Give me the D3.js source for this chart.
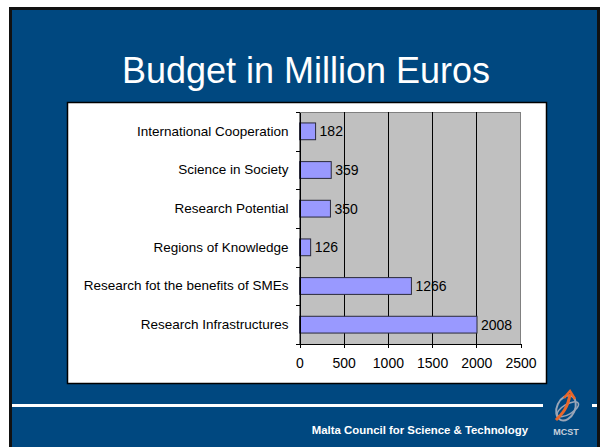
<!DOCTYPE html>
<html lang='en'>
  <head>
    <meta charset='utf-8'>
    <title>Budget in Million Euros</title>
    <script type='text/javascript' src='https://cdn.jsdelivr.net/npm/d3@7'></script>
    <style type='text/css'>
    body{
      margin: 0;
      background: white;
    }
    svg{
      display: block;
    }
    .axis path,
    .axis line{
      fill: none;
      stroke: black;
      shape-rendering: crispEdges;
    }
    .axis text{
      font-family: 'Liberation Sans', Arial, sans-serif;
      fill: black;
    }
    </style>
  </head>
  <body>
    <script type='text/javascript'>

    // chart data
    var categories = ['International Cooperation', 'Science in Society', 'Research Potential',
                      'Regions of Knowledge', 'Research fot the benefits of SMEs', 'Research Infrastructures'];
    var values = [182, 359, 350, 126, 1266, 2008];
    var xTicks = [0, 500, 1000, 1500, 2000, 2500];

    var w = 600;
    var h = 447;
    var blue = '#004880';

    var svg = d3.select('body')
                .append('svg')
                .attr('width', w)
                .attr('height', h);

    // slide background with its dark frame
    svg.append('rect')
       .attr('x', 9).attr('y', 7)
       .attr('width', w - 9).attr('height', h - 7)
       .attr('fill', '#111');
    svg.append('rect')
       .attr('x', 12).attr('y', 10)
       .attr('width', 585).attr('height', h - 10)
       .attr('fill', blue);

    svg.append('text')
       .attr('x', 306)
       .attr('y', 83)
       .attr('text-anchor', 'middle')
       .attr('font-family', "'Liberation Sans', Arial, sans-serif")
       .attr('font-size', '36px')
       .attr('fill', 'white')
       .text('Budget in Million Euros');

    // white chart box
    svg.append('rect')
       .attr('x', 67.5).attr('y', 102.5)
       .attr('width', 479).attr('height', 281)
       .attr('fill', 'white')
       .attr('stroke', 'black')
       .attr('stroke-width', 1.5);

    var plotLeft = 299.5, plotRight = 520.5, plotTop = 112, plotBottom = 344;

    var xScale = d3.scaleLinear()
                   .domain([0, 2500])
                   .range([plotLeft, plotRight]);

    var yScale = d3.scaleBand()
                   .domain(categories)
                   .range([plotTop, plotBottom])
                   .paddingInner(0.566)
                   .paddingOuter(0.283);

    // plot area
    svg.append('rect')
       .attr('x', plotLeft).attr('y', plotTop)
       .attr('width', plotRight - plotLeft).attr('height', plotBottom - plotTop)
       .attr('fill', '#c0c0c0')
       .attr('stroke', '#808080')
       .attr('stroke-width', 1)
       .attr('shape-rendering', 'crispEdges');

    svg.selectAll('line.grid')
       .data(xTicks.slice(1, -1))
       .enter()
       .append('line')
       .attr('class', 'grid')
       .attr('x1', function(d){ return Math.round(xScale(d)) + 0.5; })
       .attr('x2', function(d){ return Math.round(xScale(d)) + 0.5; })
       .attr('y1', plotTop)
       .attr('y2', plotBottom)
       .attr('stroke', 'black')
       .attr('stroke-width', 1);

    svg.selectAll('rect.bar')
       .data(values)
       .enter()
       .append('rect')
       .attr('class', 'bar')
       .attr('x', plotLeft)
       .attr('y', function(d, i){ return yScale(categories[i]); })
       .attr('width', function(d){ return xScale(d) - plotLeft; })
       .attr('height', yScale.bandwidth())
       .attr('fill', '#9999ff')
       .attr('stroke', '#2a2a3a')
       .attr('stroke-width', 1);

    svg.selectAll('text.value')
       .data(values)
       .enter()
       .append('text')
       .attr('class', 'value')
       .attr('x', function(d){ return xScale(d) + 4; })
       .attr('y', function(d, i){ return yScale(categories[i]) + yScale.bandwidth() / 2; })
       .attr('dy', '0.36em')
       .attr('font-family', "'Liberation Sans', Arial, sans-serif")
       .attr('font-size', '14px')
       .attr('fill', 'black')
       .text(function(d){ return d; });

    // x axis
    var xAxis = d3.axisBottom(xScale)
                  .tickValues(xTicks)
                  .tickFormat(d3.format('d'))
                  .tickSize(4)
                  .tickSizeOuter(0)
                  .tickPadding(10);

    svg.append('g')
       .attr('class', 'x axis')
       .attr('transform', 'translate(0,' + plotBottom + ')')
       .call(xAxis)
       .selectAll('text')
       .attr('font-size', '14px');

    // y axis: tick marks sit between categories
    var edgeScale = d3.scaleLinear()
                      .domain([0, categories.length])
                      .range([plotTop, plotBottom]);

    svg.append('g')
       .attr('class', 'y axis')
       .attr('transform', 'translate(' + plotLeft + ',0)')
       .call(d3.axisLeft(edgeScale)
               .ticks(categories.length)
               .tickSize(4)
               .tickSizeOuter(0)
               .tickFormat(''));

    svg.append('g')
       .attr('class', 'y labels axis')
       .attr('transform', 'translate(' + plotLeft + ',0)')
       .call(d3.axisLeft(yScale).tickSize(0).tickPadding(11))
       .call(function(g){ g.select('.domain').remove(); })
       .selectAll('text')
       .attr('font-size', '13.5px');

    // footer
    svg.append('rect')
       .attr('x', 12).attr('y', 404)
       .attr('width', 531).attr('height', 3)
       .attr('fill', 'white');
    svg.append('rect')
       .attr('x', 592).attr('y', 404)
       .attr('width', 5).attr('height', 3)
       .attr('fill', 'white');

    svg.append('text')
       .attr('x', 528)
       .attr('y', 434)
       .attr('text-anchor', 'end')
       .attr('font-family', "'Liberation Sans', Arial, sans-serif")
       .attr('font-weight', 'bold')
       .attr('font-size', '11.4px')
       .attr('fill', 'white')
       .text('Malta Council for Science & Technology');

    // MCST logo
    var logo = svg.append('g').attr('transform', 'translate(566,408)');
    logo.append('ellipse')
        .attr('cx', 0).attr('cy', 0)
        .attr('rx', 9).attr('ry', 13)
        .attr('transform', 'rotate(25)')
        .attr('fill', 'none')
        .attr('stroke', '#9aa6b8')
        .attr('stroke-width', 2);
    logo.append('ellipse')
        .attr('cx', 1).attr('cy', 2)
        .attr('rx', 12).attr('ry', 5)
        .attr('transform', 'rotate(-30)')
        .attr('fill', 'none')
        .attr('stroke', '#9aa6b8')
        .attr('stroke-width', 1.5);
    logo.append('path')
        .attr('d', 'M-10,12 C-4,6 2,0 4,-14')
        .attr('fill', 'none')
        .attr('stroke', '#e8672a')
        .attr('stroke-width', 3);
    logo.append('path')
        .attr('d', 'M-2,-10 L4,-17 L9,-9')
        .attr('fill', 'none')
        .attr('stroke', '#e8672a')
        .attr('stroke-width', 2.5);
    svg.append('text')
       .attr('x', 566)
       .attr('y', 435)
       .attr('text-anchor', 'middle')
       .attr('font-family', "'Liberation Sans', Arial, sans-serif")
       .attr('font-weight', 'bold')
       .attr('font-size', '9px')
       .attr('fill', '#c8d0dc')
       .text('MCST');

    </script>
  </body>
</html>
